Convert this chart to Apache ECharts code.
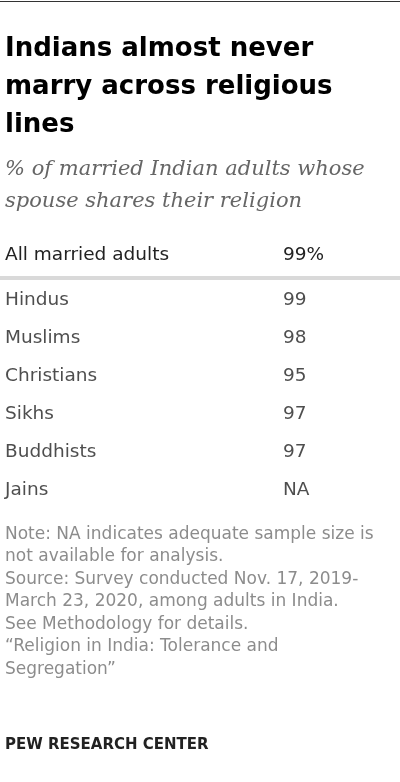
<!DOCTYPE html>
<html><head><meta charset="utf-8">
<script src="https://cdn.jsdelivr.net/npm/echarts@6/dist/echarts.min.js"></script>
<style>html,body{margin:0;padding:0;background:#fff}#c{width:400px;height:782px}</style>
</head><body><div id="c"></div>
<script>
const categories = ['Hindus','Muslims','Christians','Sikhs','Buddhists','Jains'];
const values = [99, 98, 95, 97, 97, null];
const headerLabel = 'All married adults';
const headerValue = '99%';
const titleLines = ['Indians almost never', 'marry across religious', 'lines'];
const subtitleLines = ['% of married Indian adults whose', 'spouse shares their religion'];
const noteLines = ['Note: NA indicates adequate sample size is','not available for analysis.','Source: Survey conducted Nov. 17, 2019-','March 23, 2020, among adults in India.','See Methodology for details.','\u201cReligion in India: Tolerance and','Segregation\u201d'];

const chart = echarts.init(document.getElementById('c'), null, {renderer:'canvas'});
const sans = '"DejaVu Sans", sans-serif';
const g = [];
g.push({type:'rect', shape:{x:0,y:1,width:400,height:1}, style:{fill:'#333'}});
titleLines.forEach((t,i)=>g.push({type:'text', x:5, y:36+i*38, style:{text:t, font:'bold 26px '+sans, fill:'#000'}}));
subtitleLines.forEach((t,i)=>g.push({type:'text', x:5, y:159+i*32, style:{text:t, font:'italic 21px "DejaVu Serif", serif', fill:'#666'}}));
g.push({type:'text', x:5, y:246, style:{text:headerLabel, font:'18.5px '+sans, fill:'#222'}});
g.push({type:'text', x:283, y:246, style:{text:headerValue, font:'18.5px '+sans, fill:'#222'}});
g.push({type:'rect', shape:{x:0,y:276,width:400,height:4}, style:{fill:'#d9d9d9'}});
noteLines.forEach((t,i)=>g.push({type:'text', x:5, y:526+i*22.5, style:{text:t, font:'17px '+sans, fill:'#8c8c8c'}}));
g.push({type:'text', x:5, y:738, style:{text:'PEW RESEARCH CENTER', font:'bold 15px '+sans, fill:'#222'}});

chart.setOption({
  animation:false,
  grid:{left:0,right:0,top:281,height:228},
  xAxis:{type:'value',min:0,max:400,show:false},
  yAxis:{type:'category',data:categories,inverse:true,show:false},
  series:[
    {type:'scatter',symbolSize:0,data:categories.map((c,i)=>[5,i]),
     label:{show:true,position:'right',distance:0,formatter:p=>categories[p.dataIndex],fontSize:18.5,fontFamily:'DejaVu Sans',color:'#222'}},
    {type:'scatter',symbolSize:0,data:values.map((v,i)=>[283,i]),
     label:{show:true,position:'right',distance:0,formatter:p=>values[p.dataIndex]==null?'NA':String(values[p.dataIndex]),fontSize:18.5,fontFamily:'DejaVu Sans',color:'#222'}}
  ],
  graphic:g
});
</script></body></html>
